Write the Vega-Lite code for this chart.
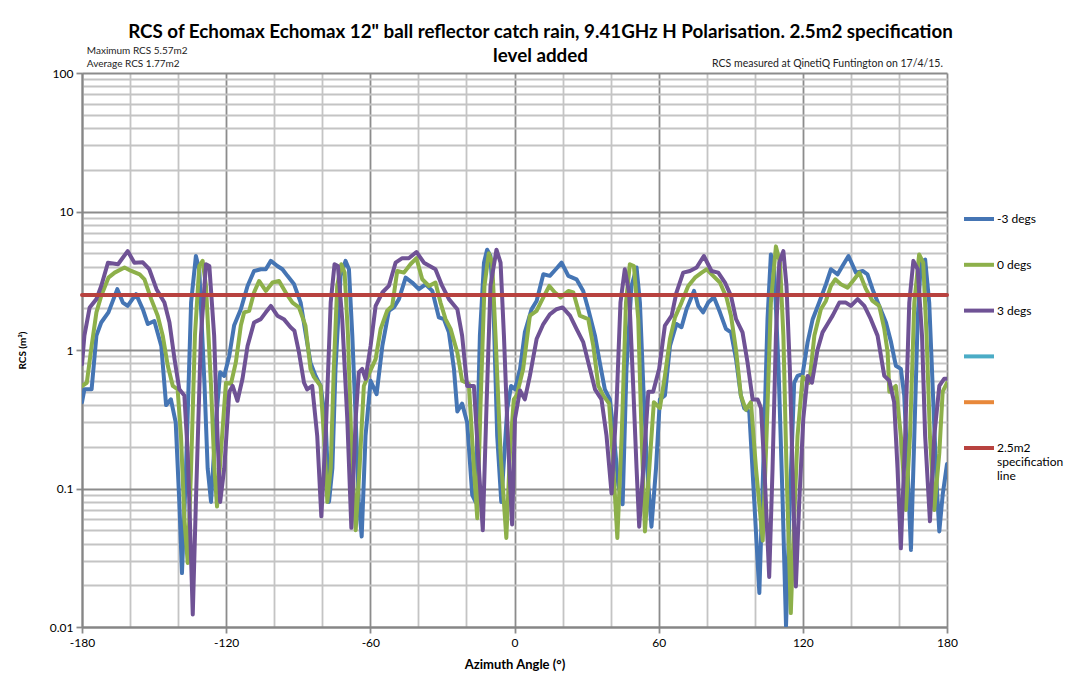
{
  "$schema": "https://vega.github.io/schema/vega-lite/v6.json",
  "width": 865,
  "height": 554,
  "autosize": "none",
  "padding": {"left": 82, "top": 73, "right": 123, "bottom": 48},
  "background": "white",
  "config": {
    "view": {"stroke": null},
    "font": "Lato",
    "text": {"font": "Lato"},
    "line": {"strokeJoin": "round", "strokeCap": "round"}
  },
  "title": {
    "text": ["RCS of Echomax Echomax 12\" ball reflector  catch rain, 9.41GHz H Polarisation. 2.5m2 specification", "level added"],
    "fontSize": 18.8,
    "fontWeight": "bold",
    "font": "Lato",
    "lineHeight": 24,
    "anchor": "middle",
    "dx": 26,
    "dy": 28,
    "offset": 8,
    "color": "#000000"
  },
  "datasets": {
    "blue": [
      {"a":-180,"v":0.42},{"a":-179,"v":0.52},{"a":-176,"v":0.52},{"a":-174,"v":1.27},{"a":-172,"v":1.58},{"a":-169,"v":1.87},{"a":-165.3,"v":2.75},{"a":-163,"v":2.2},{"a":-161,"v":2.08},{"a":-157.5,"v":2.53},{"a":-154.7,"v":1.97},{"a":-152.6,"v":1.54},{"a":-149.9,"v":1.62},{"a":-147,"v":1.07},{"a":-145,"v":0.4},{"a":-143,"v":0.44},{"a":-141,"v":0.3},{"a":-139.5,"v":0.08},{"a":-138.4,"v":0.0245},{"a":-136.7,"v":0.14},{"a":-134.6,"v":2.2},{"a":-132.6,"v":4.77},{"a":-131.2,"v":3.8},{"a":-129,"v":0.55},{"a":-127.7,"v":0.14},{"a":-126.3,"v":0.08},{"a":-124.3,"v":0.3},{"a":-122.5,"v":0.69},{"a":-120.8,"v":0.65},{"a":-118.7,"v":0.91},{"a":-116.7,"v":1.5},{"a":-113.9,"v":1.97},{"a":-111.1,"v":2.9},{"a":-108.4,"v":3.72},{"a":-105.6,"v":3.83},{"a":-103.5,"v":3.83},{"a":-101.4,"v":4.4},{"a":-98.7,"v":4.04},{"a":-96.6,"v":3.83},{"a":-94.5,"v":3.43},{"a":-91.8,"v":3.0},{"a":-89,"v":2.2},{"a":-87,"v":1.34},{"a":-84.9,"v":0.81},{"a":-82.8,"v":0.65},{"a":-80.7,"v":0.55},{"a":-78.6,"v":0.3},{"a":-77.2,"v":0.08},{"a":-75.8,"v":0.14},{"a":-74.5,"v":0.73},{"a":-72.4,"v":3.43},{"a":-70.3,"v":4.4},{"a":-68.9,"v":3.83},{"a":-67.5,"v":1.27},{"a":-66.1,"v":0.32},{"a":-64.8,"v":0.08},{"a":-63.6,"v":0.045},{"a":-62,"v":0.24},{"a":-59.9,"v":0.6},{"a":-57.4,"v":0.48},{"a":-55,"v":1.07},{"a":-52.3,"v":1.92},{"a":-50.2,"v":2.03},{"a":-48.1,"v":2.33},{"a":-45.3,"v":3.33},{"a":-42.6,"v":3.07},{"a":-39.8,"v":2.75},{"a":-37,"v":2.98},{"a":-34.2,"v":2.67},{"a":-31.5,"v":1.72},{"a":-29.4,"v":1.67},{"a":-27.3,"v":1.34},{"a":-25.2,"v":0.73},{"a":-23.8,"v":0.36},{"a":-21.8,"v":0.41},{"a":-19.7,"v":0.3},{"a":-17.6,"v":0.09},{"a":-16.2,"v":0.08},{"a":-14.4,"v":1.27},{"a":-12.7,"v":4.27},{"a":-11.4,"v":5.3},{"a":-10,"v":4.77},{"a":-8.6,"v":1.67},{"a":-7.2,"v":0.24},{"a":-5.5,"v":0.08},{"a":-3,"v":0.38},{"a":-1.4,"v":0.55},{"a":0.2,"v":0.52},{"a":2.3,"v":0.73},{"a":4.3,"v":1.34},{"a":7.1,"v":1.97},{"a":9.2,"v":2.26},{"a":12,"v":3.52},{"a":14.7,"v":3.43},{"a":17.2,"v":3.83},{"a":19.6,"v":4.27},{"a":22.4,"v":3.43},{"a":25.8,"v":3.24},{"a":28.6,"v":2.67},{"a":30.7,"v":1.97},{"a":33.5,"v":1.27},{"a":35.5,"v":0.81},{"a":37.6,"v":0.52},{"a":39.7,"v":0.44},{"a":41.4,"v":0.24},{"a":43.2,"v":0.106},{"a":45,"v":0.077},{"a":46.6,"v":0.73},{"a":48.7,"v":2.9},{"a":50.8,"v":3.94},{"a":52.2,"v":2.2},{"a":53.6,"v":0.55},{"a":55.2,"v":0.14},{"a":57,"v":0.053},{"a":58.9,"v":0.14},{"a":60.5,"v":0.44},{"a":62.6,"v":0.47},{"a":64.7,"v":1.07},{"a":67.4,"v":1.54},{"a":69.5,"v":1.46},{"a":71.6,"v":1.97},{"a":74.7,"v":2.67},{"a":76.5,"v":2.08},{"a":78.5,"v":1.87},{"a":80.6,"v":2.2},{"a":83,"v":2.4},{"a":85.5,"v":1.87},{"a":88,"v":1.42},{"a":90.1,"v":1.34},{"a":92.2,"v":0.86},{"a":94.2,"v":0.47},{"a":95.6,"v":0.38},{"a":97.7,"v":0.36},{"a":99.8,"v":0.08},{"a":101.9,"v":0.0176},{"a":103.5,"v":0.14},{"a":105.3,"v":1.67},{"a":106.7,"v":4.9},{"a":108.1,"v":3.83},{"a":109.9,"v":0.73},{"a":111.6,"v":0.08},{"a":113,"v":0.0102},{"a":114.6,"v":0.08},{"a":116.4,"v":0.58},{"a":117.8,"v":0.65},{"a":119.9,"v":0.67},{"a":122,"v":1.14},{"a":124.1,"v":1.67},{"a":126.8,"v":2.2},{"a":129.6,"v":2.98},{"a":131.7,"v":3.83},{"a":134.5,"v":3.52},{"a":136.5,"v":4.04},{"a":139,"v":4.77},{"a":142.1,"v":3.62},{"a":144.9,"v":3.72},{"a":146.9,"v":3.52},{"a":149,"v":2.75},{"a":151.8,"v":2.08},{"a":154.6,"v":1.58},{"a":156.7,"v":1.14},{"a":158.7,"v":0.77},{"a":160.8,"v":0.73},{"a":162.2,"v":0.47},{"a":163.6,"v":0.14},{"a":165,"v":0.036},{"a":166.4,"v":0.24},{"a":167.8,"v":1.67},{"a":169.1,"v":4.27},{"a":170.9,"v":4.5},{"a":172.6,"v":2.2},{"a":174.3,"v":0.42},{"a":175.7,"v":0.106},{"a":176.8,"v":0.049},{"a":178.2,"v":0.09},{"a":180,"v":0.15}
    ],
    "green": [
      {"a":-180,"v":0.55},{"a":-178,"v":0.58},{"a":-176,"v":1.07},{"a":-174,"v":1.87},{"a":-172,"v":2.46},{"a":-169,"v":3.33},{"a":-166.4,"v":3.62},{"a":-162.3,"v":3.94},{"a":-159.5,"v":3.72},{"a":-156,"v":3.52},{"a":-154,"v":3.24},{"a":-151.2,"v":2.33},{"a":-148.5,"v":1.77},{"a":-146.4,"v":1.27},{"a":-144.3,"v":0.77},{"a":-142.2,"v":0.55},{"a":-140.2,"v":0.52},{"a":-138.8,"v":0.24},{"a":-137.4,"v":0.061},{"a":-136,"v":0.029},{"a":-134.6,"v":0.14},{"a":-133,"v":1.27},{"a":-131.2,"v":4.04},{"a":-129.8,"v":4.4},{"a":-128.4,"v":2.9},{"a":-126.3,"v":0.55},{"a":-124.9,"v":0.14},{"a":-123.8,"v":0.074},{"a":-122.2,"v":0.18},{"a":-120.1,"v":0.58},{"a":-118,"v":0.57},{"a":-116,"v":0.81},{"a":-113.9,"v":1.5},{"a":-112.5,"v":1.87},{"a":-110.4,"v":1.92},{"a":-108.4,"v":2.6},{"a":-106.3,"v":3.15},{"a":-103.5,"v":2.67},{"a":-100.7,"v":3.07},{"a":-98,"v":3.15},{"a":-95.2,"v":2.6},{"a":-92.4,"v":2.2},{"a":-89.7,"v":2.03},{"a":-87,"v":1.5},{"a":-84.9,"v":0.73},{"a":-83.5,"v":0.64},{"a":-80.7,"v":0.55},{"a":-79.3,"v":0.24},{"a":-77.9,"v":0.08},{"a":-76.5,"v":0.14},{"a":-75.2,"v":0.73},{"a":-73.8,"v":2.9},{"a":-72.1,"v":4.16},{"a":-70.7,"v":3.62},{"a":-69.3,"v":1.27},{"a":-68,"v":0.24},{"a":-66.1,"v":0.05},{"a":-64.5,"v":0.14},{"a":-62.7,"v":0.55},{"a":-60.6,"v":0.67},{"a":-57.8,"v":0.86},{"a":-55.7,"v":1.42},{"a":-53,"v":1.92},{"a":-50.9,"v":2.08},{"a":-48.8,"v":3.72},{"a":-46,"v":3.62},{"a":-43.3,"v":4.16},{"a":-40.8,"v":4.6},{"a":-38.4,"v":3.24},{"a":-35.6,"v":2.9},{"a":-32.9,"v":3.07},{"a":-30.8,"v":2.2},{"a":-28.7,"v":1.67},{"a":-26.6,"v":1.42},{"a":-23.8,"v":0.96},{"a":-21.8,"v":0.6},{"a":-19,"v":0.57},{"a":-16.9,"v":0.14},{"a":-15.5,"v":0.061},{"a":-14.1,"v":0.42},{"a":-12.5,"v":2.9},{"a":-10.7,"v":5.0},{"a":-9.3,"v":4.27},{"a":-7.9,"v":1.27},{"a":-5.8,"v":0.18},{"a":-3.4,"v":0.044},{"a":-1.9,"v":0.18},{"a":-0.3,"v":0.44},{"a":0.9,"v":0.47},{"a":3.6,"v":0.73},{"a":6.4,"v":1.77},{"a":9.2,"v":1.92},{"a":12,"v":2.4},{"a":14.5,"v":2.9},{"a":16.8,"v":2.6},{"a":19.2,"v":2.4},{"a":22.4,"v":2.67},{"a":24.5,"v":2.6},{"a":27.2,"v":1.77},{"a":30.7,"v":1.67},{"a":32.8,"v":1.07},{"a":34.9,"v":0.55},{"a":36.9,"v":0.47},{"a":39.4,"v":0.41},{"a":40.8,"v":0.18},{"a":42.8,"v":0.044},{"a":44.6,"v":0.24},{"a":46.4,"v":2.2},{"a":48,"v":4.16},{"a":49.7,"v":4.04},{"a":51.5,"v":1.67},{"a":52.9,"v":0.24},{"a":54.3,"v":0.049},{"a":56.1,"v":0.14},{"a":58,"v":0.42},{"a":60.5,"v":0.38},{"a":62.6,"v":0.65},{"a":64.7,"v":1.2},{"a":66.8,"v":1.72},{"a":69.5,"v":2.2},{"a":72.3,"v":2.9},{"a":75.1,"v":3.33},{"a":77.9,"v":3.62},{"a":80,"v":3.83},{"a":82.7,"v":3.43},{"a":85.5,"v":3.07},{"a":88.2,"v":2.4},{"a":90.1,"v":1.77},{"a":92.2,"v":1.0},{"a":94.2,"v":0.47},{"a":96.3,"v":0.37},{"a":98.4,"v":0.42},{"a":100.5,"v":0.14},{"a":103.3,"v":0.042},{"a":104.9,"v":0.24},{"a":106.7,"v":2.2},{"a":108.8,"v":5.6},{"a":110.5,"v":4.27},{"a":111.9,"v":1.27},{"a":113.2,"v":0.14},{"a":115,"v":0.0126},{"a":116.4,"v":0.061},{"a":117.8,"v":0.24},{"a":119.9,"v":0.64},{"a":122.7,"v":0.58},{"a":124.8,"v":1.27},{"a":127.5,"v":1.97},{"a":129.6,"v":2.26},{"a":131.7,"v":2.9},{"a":133.5,"v":3.24},{"a":135.8,"v":2.98},{"a":138.6,"v":2.82},{"a":141.4,"v":3.24},{"a":143.5,"v":3.62},{"a":146.3,"v":2.75},{"a":149,"v":2.26},{"a":151.8,"v":2.08},{"a":153.9,"v":1.42},{"a":155.3,"v":0.96},{"a":156,"v":0.5},{"a":158.7,"v":0.55},{"a":160.8,"v":0.24},{"a":162.9,"v":0.07},{"a":164.6,"v":0.24},{"a":166.4,"v":2.2},{"a":168.4,"v":4.9},{"a":170.1,"v":4.27},{"a":171.5,"v":1.27},{"a":172.9,"v":0.24},{"a":174.7,"v":0.07},{"a":176.8,"v":0.18},{"a":178.2,"v":0.5},{"a":180,"v":0.58}
    ],
    "purple": [
      {"a":-180,"v":0.79},{"a":-179,"v":1.27},{"a":-176.8,"v":2.03},{"a":-174,"v":2.33},{"a":-172,"v":2.9},{"a":-169.2,"v":4.27},{"a":-165,"v":4.16},{"a":-161,"v":5.18},{"a":-158.2,"v":4.27},{"a":-154.7,"v":4.3},{"a":-152,"v":3.83},{"a":-149,"v":2.75},{"a":-145.7,"v":2.2},{"a":-143.6,"v":1.58},{"a":-141.5,"v":0.86},{"a":-139.5,"v":0.52},{"a":-137.4,"v":0.47},{"a":-136,"v":0.18},{"a":-134.9,"v":0.046},{"a":-133.9,"v":0.0123},{"a":-132.6,"v":0.08},{"a":-130.5,"v":1.27},{"a":-128.4,"v":4.16},{"a":-127,"v":4.04},{"a":-125,"v":1.27},{"a":-123.6,"v":0.24},{"a":-122.5,"v":0.08},{"a":-120.8,"v":0.14},{"a":-118.7,"v":0.5},{"a":-117.3,"v":0.55},{"a":-115.3,"v":0.43},{"a":-113.2,"v":0.62},{"a":-111.1,"v":1.07},{"a":-108.4,"v":1.58},{"a":-105.6,"v":1.67},{"a":-103.5,"v":1.87},{"a":-101.4,"v":2.08},{"a":-98.7,"v":1.77},{"a":-96,"v":1.67},{"a":-93.2,"v":1.46},{"a":-91.6,"v":1.38},{"a":-89.7,"v":0.96},{"a":-87.6,"v":0.58},{"a":-86.3,"v":0.52},{"a":-84.2,"v":0.55},{"a":-82.1,"v":0.24},{"a":-80.4,"v":0.063},{"a":-78.6,"v":0.24},{"a":-76.5,"v":2.2},{"a":-74.9,"v":4.16},{"a":-73.5,"v":4.04},{"a":-71.7,"v":1.67},{"a":-69.6,"v":0.32},{"a":-67.9,"v":0.052},{"a":-66.1,"v":0.32},{"a":-64.8,"v":0.69},{"a":-63.4,"v":0.73},{"a":-62,"v":0.62},{"a":-59.9,"v":1.07},{"a":-57.8,"v":2.08},{"a":-55,"v":2.6},{"a":-52.3,"v":2.9},{"a":-49.5,"v":4.27},{"a":-46.7,"v":4.6},{"a":-44,"v":4.6},{"a":-40.8,"v":5.1},{"a":-37.7,"v":4.27},{"a":-32.9,"v":3.83},{"a":-30.1,"v":2.9},{"a":-27.3,"v":2.33},{"a":-23.8,"v":1.97},{"a":-21.8,"v":1.27},{"a":-19.7,"v":0.55},{"a":-16.9,"v":0.55},{"a":-14.8,"v":0.14},{"a":-13.2,"v":0.05},{"a":-11.6,"v":0.42},{"a":-10,"v":2.9},{"a":-7.5,"v":5.3},{"a":-5.8,"v":4.27},{"a":-4.4,"v":1.27},{"a":-2.8,"v":0.24},{"a":-1,"v":0.055},{"a":0.2,"v":0.32},{"a":2.3,"v":0.51},{"a":4.3,"v":0.44},{"a":6.4,"v":0.65},{"a":9.2,"v":1.2},{"a":12,"v":1.54},{"a":14.7,"v":1.81},{"a":17.5,"v":1.97},{"a":20,"v":2.03},{"a":23.1,"v":1.77},{"a":25.8,"v":1.42},{"a":28.6,"v":1.14},{"a":31.4,"v":0.73},{"a":33.5,"v":0.52},{"a":36.2,"v":0.44},{"a":38.3,"v":0.24},{"a":40.4,"v":0.092},{"a":42.5,"v":0.42},{"a":44.1,"v":2.2},{"a":45.9,"v":3.83},{"a":47.7,"v":2.6},{"a":49.4,"v":0.55},{"a":50.8,"v":0.14},{"a":51.9,"v":0.053},{"a":53.6,"v":0.14},{"a":55.7,"v":0.5},{"a":57.7,"v":0.5},{"a":60.2,"v":0.73},{"a":62.6,"v":1.5},{"a":65.4,"v":1.77},{"a":67.4,"v":2.6},{"a":70.2,"v":3.62},{"a":73,"v":3.72},{"a":75.8,"v":3.94},{"a":78.8,"v":4.77},{"a":82,"v":3.72},{"a":84.8,"v":3.62},{"a":87.6,"v":3.07},{"a":90.1,"v":2.46},{"a":92.2,"v":1.67},{"a":94.9,"v":1.34},{"a":97,"v":0.81},{"a":99.1,"v":0.44},{"a":101.2,"v":0.44},{"a":102.6,"v":0.38},{"a":104,"v":0.14},{"a":106,"v":0.023},{"a":107.4,"v":0.14},{"a":108.8,"v":1.27},{"a":110.2,"v":4.27},{"a":111.9,"v":5.18},{"a":113.2,"v":2.9},{"a":114.6,"v":0.73},{"a":115.7,"v":0.14},{"a":117.1,"v":0.0196},{"a":118.5,"v":0.08},{"a":120.2,"v":0.32},{"a":122,"v":0.65},{"a":123.8,"v":0.58},{"a":126.1,"v":1.0},{"a":128.2,"v":1.34},{"a":130.3,"v":1.54},{"a":132.4,"v":1.77},{"a":135.2,"v":2.2},{"a":137.9,"v":2.2},{"a":140,"v":2.08},{"a":142.8,"v":2.33},{"a":145.6,"v":2.08},{"a":148.3,"v":1.67},{"a":151.1,"v":1.27},{"a":153.9,"v":0.65},{"a":156,"v":0.6},{"a":158,"v":0.42},{"a":159.4,"v":0.14},{"a":160.8,"v":0.037},{"a":162.6,"v":0.24},{"a":164.3,"v":2.2},{"a":166,"v":4.4},{"a":167.8,"v":3.83},{"a":169.6,"v":1.27},{"a":170.9,"v":0.24},{"a":172.9,"v":0.058},{"a":174.7,"v":0.24},{"a":176.8,"v":0.55},{"a":178.8,"v":0.62},{"a":180,"v":0.62}
    ],
    "spec": [{"a":-180,"v":2.5},{"a":180,"v":2.5}],
    "notes": [
      {"a":-178,"v":144,"t":"Maximum RCS 5.57m2"},
      {"a":-178,"v":116,"t":"Average RCS 1.77m2"}
    ],
    "notesR": [
      {"a":178.3,"v":116,"t":"RCS measured at QinetiQ Funtington on 17/4/15."}
    ]
  },
  "layer": [
    {
      "data": {"name": "blue"},
      "mark": {"type": "line", "strokeWidth": 4, "clip": true},
      "encoding": {
        "x": {
          "field": "a", "type": "quantitative",
          "scale": {"domain": [-180, 180], "nice": false, "zero": false},
          "axis": {
            "title": "Azimuth Angle (°)",
            "titleFont": "Lato", "titleFontSize": 13, "titleFontWeight": "bold", "titleColor": "#000000", "titlePadding": 10,
            "values": [-180,-170,-160,-150,-140,-130,-120,-110,-100,-90,-80,-70,-60,-50,-40,-30,-20,-10,0,10,20,30,40,50,60,70,80,90,100,110,120,130,140,150,160,170,180],
            "labelExpr": "datum.value % 30 === 0 ? '' + datum.value : ''",
            "labelFont": "Lato", "labelFontSize": 12, "labelColor": "#000000", "labelPadding": 4, "labelFlush": false,
            "grid": true,
            "gridColor": {"condition": {"test": "datum.value % 30 === 0", "value": "#8c8c8c"}, "value": "#c4c4c4"},
            "gridWidth": 1.8,
            "tickColor": {"condition": {"test": "datum.value % 30 === 0", "value": "#8c8c8c"}, "value": "transparent"},
            "tickSize": 6, "tickWidth": 1.8,
            "domainColor": "#868686", "domainWidth": 2
          }
        },
        "y": {
          "field": "v", "type": "quantitative",
          "scale": {"type": "log", "domain": [0.01, 100], "nice": false},
          "axis": {
            "title": "RCS (m²)",
            "titleFont": "Lato", "titleFontSize": 10, "titleFontWeight": "bold", "titleColor": "#000000", "titlePadding": 22,
            "values": [0.01,0.02,0.03,0.04,0.05,0.06,0.07,0.08,0.09,0.1,0.2,0.3,0.4,0.5,0.6,0.7,0.8,0.9,1,2,3,4,5,6,7,8,9,10,20,30,40,50,60,70,80,90,100],
            "labelExpr": "datum.value == 0.01 ? '0.01' : datum.value == 0.1 ? '0.1' : datum.value == 1 ? '1' : datum.value == 10 ? '10' : datum.value == 100 ? '100' : ''",
            "labelFont": "Lato", "labelFontSize": 12, "labelColor": "#000000", "labelPadding": 3,
            "grid": true,
            "gridColor": {"condition": {"test": "indexof([0.01,0.1,1,10,100], datum.value) >= 0", "value": "#8c8c8c"}, "value": "#c4c4c4"},
            "gridWidth": 1.8,
            "tickColor": {"condition": {"test": "indexof([0.01,0.1,1,10,100], datum.value) >= 0", "value": "#8c8c8c"}, "value": "transparent"},
            "tickSize": 6, "tickWidth": 1.8,
            "domainColor": "#868686", "domainWidth": 2
          }
        },
        "color": {
          "datum": "-3 degs",
          "type": "nominal",
          "scale": {
            "domain": ["-3 degs", "0 degs", "3 degs", " ", "  ", "2.5m2 specification line"],
            "range": ["#4575B4", "#8DB04A", "#6F5295", "#4BACC6", "#E8883A", "#B8423F"]
          },
          "legend": {
            "title": null,
            "orient": "none",
            "legendX": 880,
            "legendY": 129,
            "symbolType": "stroke",
            "symbolSize": 900,
            "symbolStrokeWidth": 4,
            "labelFont": "Lato",
            "labelFontSize": 12,
            "labelColor": "#000000",
            "labelOffset": 1,
            "rowPadding": 22.8,
            "labelLimit": 200,
            "labelExpr": "datum.label == '2.5m2 specification line' ? ['2.5m2', 'specification', 'line'] : datum.label"
          }
        }
      }
    },
    {
      "data": {"name": "green"},
      "mark": {"type": "line", "strokeWidth": 4, "clip": true},
      "encoding": {
        "x": {"field": "a", "type": "quantitative"},
        "y": {"field": "v", "type": "quantitative"},
        "color": {"datum": "0 degs", "type": "nominal"}
      }
    },
    {
      "data": {"name": "purple"},
      "mark": {"type": "line", "strokeWidth": 4, "clip": true},
      "encoding": {
        "x": {"field": "a", "type": "quantitative"},
        "y": {"field": "v", "type": "quantitative"},
        "color": {"datum": "3 degs", "type": "nominal"}
      }
    },
    {
      "data": {"name": "spec"},
      "mark": {"type": "line", "strokeWidth": 4},
      "encoding": {
        "x": {"field": "a", "type": "quantitative"},
        "y": {"field": "v", "type": "quantitative"},
        "color": {"datum": "2.5m2 specification line", "type": "nominal"}
      }
    },
    {
      "data": {"name": "notes"},
      "mark": {"type": "text", "align": "left", "baseline": "middle", "fontSize": 10, "font": "Lato", "color": "#222222"},
      "encoding": {
        "x": {"field": "a", "type": "quantitative"},
        "y": {"field": "v", "type": "quantitative"},
        "text": {"field": "t"}
      }
    },
    {
      "data": {"name": "notesR"},
      "mark": {"type": "text", "align": "right", "baseline": "middle", "fontSize": 10.5, "font": "Lato", "color": "#222222"},
      "encoding": {
        "x": {"field": "a", "type": "quantitative"},
        "y": {"field": "v", "type": "quantitative"},
        "text": {"field": "t"}
      }
    }
  ]
}
